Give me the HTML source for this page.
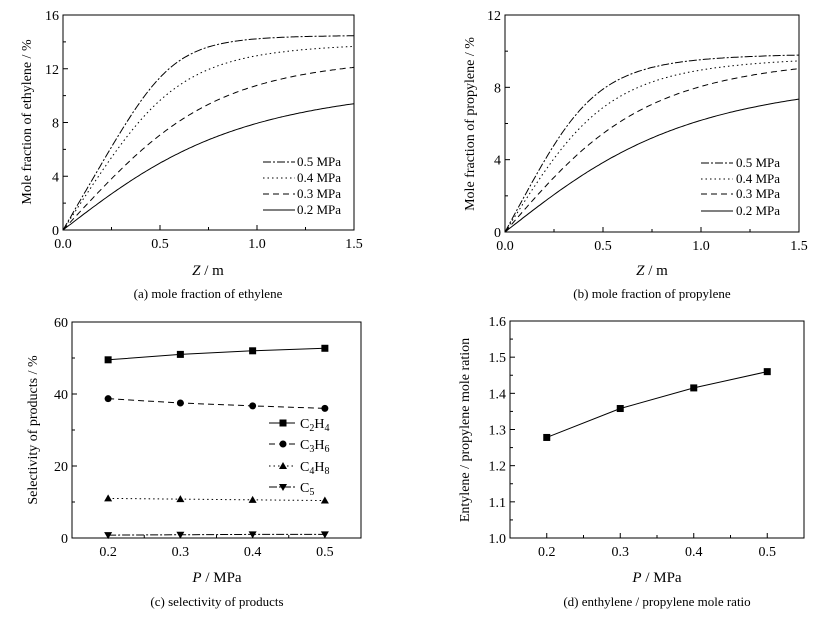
<!DOCTYPE html><html><head><meta charset="utf-8"><style>
body{margin:0;background:#fff;}svg{display:block;}
text{font-family:"Liberation Serif","Times New Roman",serif;}
</style></head><body>
<svg id="s" width="827" height="619" xmlns="http://www.w3.org/2000/svg" font-family="Liberation Serif, serif"></svg>
<script>
const S=document.getElementById('s');let h='';
const F='font-family="Liberation Serif, serif"';
function ax(o){
 const X=v=>o.l+(v-o.xmin)/(o.xmax-o.xmin)*(o.r-o.l),Y=v=>o.b-(v-o.ymin)/(o.ymax-o.ymin)*(o.b-o.t);
 h+=`<rect x="${o.l}" y="${o.t}" width="${o.r-o.l}" height="${o.b-o.t}" fill="none" stroke="#000" stroke-width="1"/>`;
 o.xt.forEach(v=>{h+=`<line x1="${X(v)}" x2="${X(v)}" y1="${o.b}" y2="${o.b-5}" stroke="#000"/><text ${F} x="${X(v)}" y="${o.b+18}" font-size="14" text-anchor="middle">${o.xf(v)}</text>`});
 o.xm.forEach(v=>{h+=`<line x1="${X(v)}" x2="${X(v)}" y1="${o.b}" y2="${o.b-3}" stroke="#000"/>`});
 o.yt.forEach(v=>{h+=`<line x1="${o.l}" x2="${o.l+5}" y1="${Y(v)}" y2="${Y(v)}" stroke="#000"/><text ${F} x="${o.l-4}" y="${Y(v)+5}" font-size="14" text-anchor="end">${o.yf(v)}</text>`});
 o.ym.forEach(v=>{h+=`<line x1="${o.l}" x2="${o.l+3}" y1="${Y(v)}" y2="${Y(v)}" stroke="#000"/>`});
 return [X,Y];
}
const dash={da:'8,2,2,2',d:'1.5,3',ds:'6,4'};
function curve(X,Y,A,t,n,st){let p='';for(let i=0;i<=150;i++){const z=i/100,x=z/t;const y=A*x/Math.pow(1+Math.pow(x,n),1/n);p+=(i?'L':'M')+X(z).toFixed(1)+','+Y(y).toFixed(1);}
 h+=`<path d="${p}" fill="none" stroke="#000" stroke-width="1" ${st?`stroke-dasharray="${st}"`:''}/>`;}
function leg(x1,x2,tx,ys,labels,sts){ys.forEach((y,i)=>{h+=`<line x1="${x1}" x2="${x2}" y1="${y}" y2="${y}" stroke="#000" ${sts[i]?`stroke-dasharray="${sts[i]}"`:''}/><text ${F} x="${tx}" y="${y+4}" font-size="13">${labels[i]}</text>`});}
const L=['0.5 MPa','0.4 MPa','0.3 MPa','0.2 MPa'],ST=[dash.da,dash.d,dash.ds,''];
// (a)
let [X,Y]=ax({l:63,r:354,t:15,b:230,xmin:0,xmax:1.5,ymin:0,ymax:16,xt:[0,0.5,1,1.5],xm:[0.25,0.75,1.25],yt:[0,4,8,12,16],ym:[2,6,10,14],xf:v=>v.toFixed(1),yf:v=>v});
curve(X,Y,14.5,0.584,4.5,ST[0]);curve(X,Y,14,0.636,3,ST[1]);curve(X,Y,13.2,0.85,2.5,ST[2]);curve(X,Y,11.4,1.03,2,'');
leg(263,295,297,[162,178,194,210],L,ST);
h+=`<text ${F} x="208" y="275" font-size="15" text-anchor="middle"><tspan font-style="italic">Z</tspan> / m</text><text ${F} x="208" y="298" font-size="13" text-anchor="middle">(a) mole fraction of ethylene</text>`;
h+=`<text ${F} transform="translate(31,122) rotate(-90)" font-size="14" text-anchor="middle">Mole fraction of ethylene / %</text>`;
// (b)
[X,Y]=ax({l:505,r:799,t:15,b:232,xmin:0,xmax:1.5,ymin:0,ymax:12,xt:[0,0.5,1,1.5],xm:[0.25,0.75,1.25],yt:[0,4,8,12],ym:[2,6,10],xf:v=>v.toFixed(1),yf:v=>v});
curve(X,Y,9.9,0.495,3,ST[0]);curve(X,Y,9.8,0.576,2.5,ST[1]);curve(X,Y,10,0.8,2.2,ST[2]);curve(X,Y,9,1.06,2,'');
leg(701,733,736,[163,179,194,211],L,ST);
h+=`<text ${F} x="652" y="275" font-size="15" text-anchor="middle"><tspan font-style="italic">Z</tspan> / m</text><text ${F} x="652" y="298" font-size="13" text-anchor="middle">(b) mole fraction of propylene</text>`;
h+=`<text ${F} transform="translate(474,124) rotate(-90)" font-size="14" text-anchor="middle">Mole fraction of propylene / %</text>`;
function mk(t,x,y){if(t=='sq')return `<rect x="${x-3.5}" y="${y-3.5}" width="7" height="7"/>`;if(t=='ci')return `<circle cx="${x}" cy="${y}" r="3.5"/>`;if(t=='tu')return `<path d="M${x},${y-4}L${x+4},${y+3}L${x-4},${y+3}Z"/>`;return `<path d="M${x},${y+4}L${x+4},${y-3}L${x-4},${y-3}Z"/>`;}
// (c)
[X,Y]=ax({l:72,r:361,t:322,b:538,xmin:0.15,xmax:0.55,ymin:0,ymax:60,xt:[0.2,0.3,0.4,0.5],xm:[0.25,0.35,0.45],yt:[0,20,40,60],ym:[10,30,50],xf:v=>v.toFixed(1),yf:v=>v});
const P=[0.2,0.3,0.4,0.5];
const ser=[[49.5,51,52,52.7,'sq',''],[38.7,37.5,36.7,36,'ci',dash.ds],[11,10.8,10.6,10.4,'tu',dash.d],[0.8,0.9,1,1,'td',dash.da]];
ser.forEach(s=>{h+=`<polyline points="${P.map((p,i)=>X(p)+','+Y(s[i])).join(' ')}" fill="none" stroke="#000" ${s[5]?`stroke-dasharray="${s[5]}"`:''}/>`;P.forEach((p,i)=>h+=mk(s[4],X(p),Y(s[i])));});
const cl=['C<tspan font-size="10" dy="3">2</tspan><tspan dy="-3">H</tspan><tspan font-size="10" dy="3">4</tspan>','C<tspan font-size="10" dy="3">3</tspan><tspan dy="-3">H</tspan><tspan font-size="10" dy="3">6</tspan>','C<tspan font-size="10" dy="3">4</tspan><tspan dy="-3">H</tspan><tspan font-size="10" dy="3">8</tspan>','C<tspan font-size="10" dy="3">5</tspan>'];
[423,444,466,487].forEach((y,i)=>{h+=`<line x1="269" x2="295" y1="${y}" y2="${y}" stroke="#000" ${ser[i][5]?`stroke-dasharray="${ser[i][5]}"`:''}/>`+mk(ser[i][4],283,y)+`<text ${F} x="300" y="${y+5}" font-size="14">${cl[i]}</text>`;});
h+=`<text ${F} x="217" y="582" font-size="15" text-anchor="middle"><tspan font-style="italic">P</tspan> / MPa</text><text ${F} x="217" y="606" font-size="13" text-anchor="middle">(c) selectivity of products</text>`;
h+=`<text ${F} transform="translate(37,430) rotate(-90)" font-size="14" text-anchor="middle">Selectivity of products / %</text>`;
// (d)
[X,Y]=ax({l:510,r:804,t:321,b:538,xmin:0.15,xmax:0.55,ymin:1.0,ymax:1.6,xt:[0.2,0.3,0.4,0.5],xm:[0.25,0.35,0.45],yt:[1,1.1,1.2,1.3,1.4,1.5,1.6],ym:[1.05,1.15,1.25,1.35,1.45,1.55],xf:v=>v.toFixed(1),yf:v=>v.toFixed(1)});
const dv=[1.278,1.358,1.415,1.46];
h+=`<polyline points="${P.map((p,i)=>X(p)+','+Y(dv[i])).join(' ')}" fill="none" stroke="#000"/>`;P.forEach((p,i)=>h+=mk('sq',X(p),Y(dv[i])));
h+=`<text ${F} x="657" y="582" font-size="15" text-anchor="middle"><tspan font-style="italic">P</tspan> / MPa</text><text ${F} x="657" y="606" font-size="13" text-anchor="middle">(d) enthylene / propylene mole ratio</text>`;
h+=`<text ${F} transform="translate(469,430) rotate(-90)" font-size="14" text-anchor="middle">Entylene / propylene mole ration</text>`;
S.innerHTML=h;
</script></body></html>
